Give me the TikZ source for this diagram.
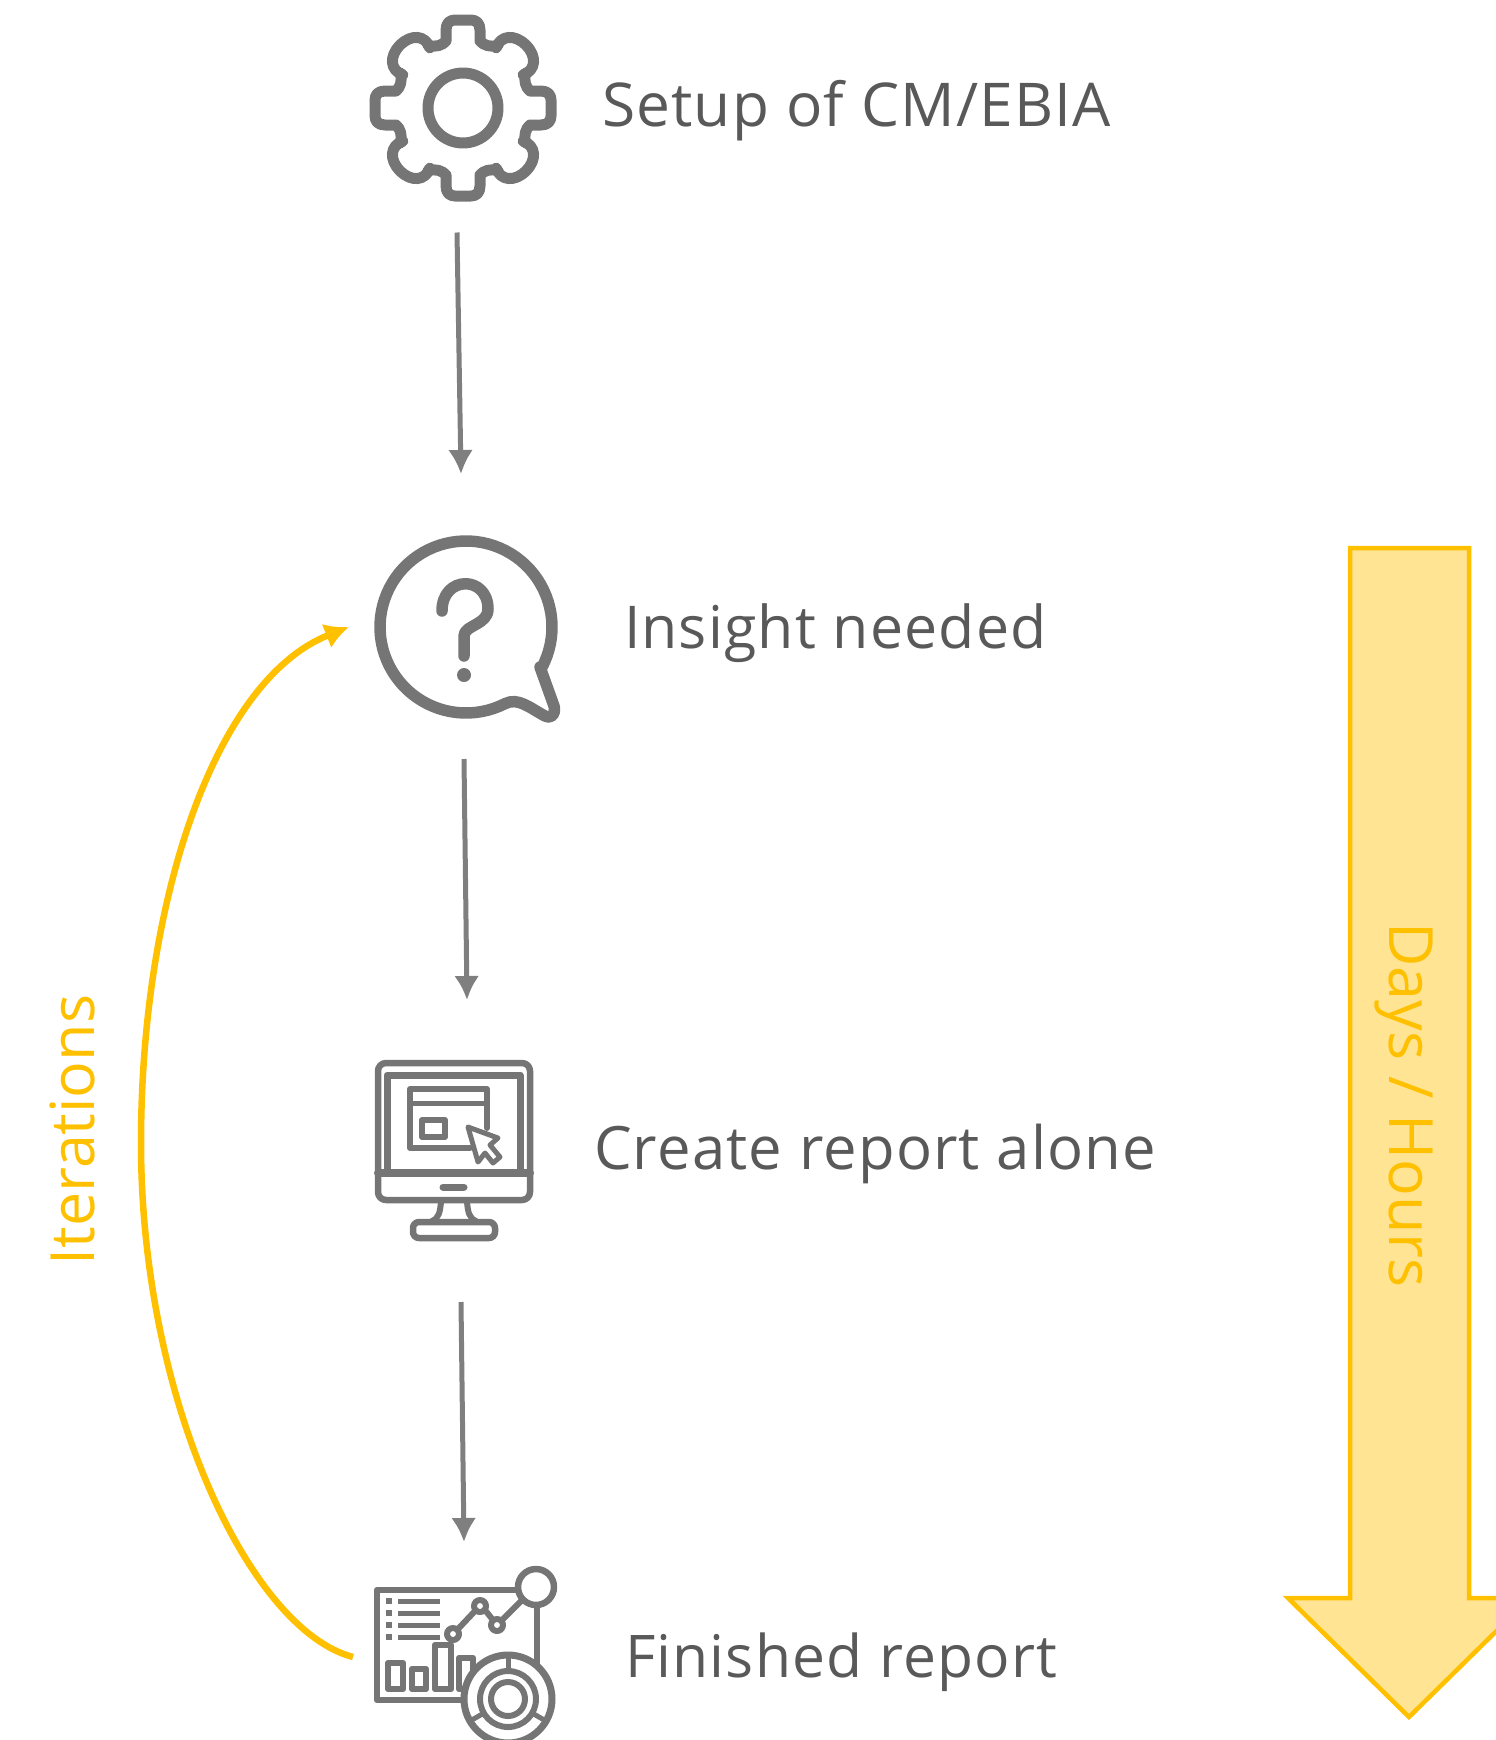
\documentclass[tikz,border=0pt]{standalone}
\usepackage{fontspec}
\setmainfont{Open Sans}
\newfontfamily\spaced[LetterSpace=2]{Open Sans}
\usetikzlibrary{arrows.meta,calc}
\definecolor{icongray}{HTML}{757575}
\definecolor{arrowgray}{HTML}{7F7F7F}
\definecolor{textgray}{HTML}{595959}
\definecolor{gold}{HTML}{FFC000}
\definecolor{goldfill}{HTML}{FFE493}
\tikzset{
  icon/.style={draw=icongray,line width=#1,line cap=round,line join=round},
  icon/.default=6pt,
  box/.style={inner sep=0pt,outer sep=0pt,minimum width=#1},
  lab/.style={text=textgray,inner sep=0pt,outer sep=0pt,anchor=base west,font=\spaced\fontsize{#1}{64}\selectfont},
  goldlab/.style={text=gold,inner sep=0pt,outer sep=0pt,font=\fontsize{61}{64}\selectfont},
  flow/.style={draw=arrowgray,line width=5pt,-{Latex[length=24pt,width=25pt]}},
  loopback/.style={draw=gold,line width=6.5pt,-{Latex[length=24pt,width=26pt]}}
}
\begin{document}
\begin{tikzpicture}[x=1pt,y=-1pt]
\useasboundingbox (0,0) rectangle (1496,1740);
\clip (0,0) rectangle (1496,1740);
% anchor nodes around the four icons
\node[box=187pt,minimum height=187pt] (gear) at (463,108) {};
\node[box=187pt,minimum height=190pt] (question) at (467,630) {};
\node[box=160pt,minimum height=180pt] (monitor) at (454,1151) {};
\node[box=190pt,minimum height=170pt] (report) at (460,1655) {};
% gear
\begin{scope}[shift={(463,108)}]
\foreach \a in {0,90,180,270}{
  \draw[icon=11pt,rotate=\a] (-35,-63) .. controls (-28,-60) and (-20,-63) .. (-17,-67) -- (-17,-78)
    .. controls (-17,-85) and (-13,-88) .. (-8,-88) -- (8,-88)
    .. controls (13,-88) and (17,-85) .. (17,-78) -- (17,-67)
    .. controls (20,-63) and (28,-60) .. (35,-63);
  \draw[icon=11pt,rotate=\a+45] (-19,-66) .. controls (-25,-78) and (-16,-89) .. (0,-89)
    .. controls (16,-89) and (25,-78) .. (19,-66);
}
\draw[icon=11pt] (0,0) circle (35);
\end{scope}
% question bubble
\draw[icon=11.5pt] plot[domain=28:-297,samples=80] ({466+86*cos(\x)},{627+86*sin(\x)})
  .. controls (518,697) and (530,708) .. (545,716)
  .. controls (552,719) and (556,714) .. (554,706)
  -- (540,667);
\draw[icon=11.5pt] (442,611) .. controls (442,575) and (488,575) .. (488,609)
  .. controls (488,625) and (464,625) .. (464,636) -- (464,656);
\fill[icongray] (464,675) circle (7);
% monitor
\draw[icon=6.5pt,rounded corners=8pt] (378,1063) rectangle (530,1200);
\draw[icon=7pt] (387,1173) -- (387,1075) -- (520,1075) -- (520,1173);
\draw[icon=8pt] (378,1173) -- (530,1173);
\draw[icon=7pt] (443,1187) -- (464,1187);
\draw[icon=6pt] (441,1202) .. controls (440,1212) and (439,1218) .. (432,1221);
\draw[icon=6pt] (467,1202) .. controls (468,1212) and (469,1218) .. (476,1221);
\draw[icon=6.5pt,rounded corners=6pt] (413,1222) rectangle (495,1238);
\draw[icon=6pt] (487,1128) -- (487,1089) -- (410,1089) -- (410,1148) -- (470,1148);
\draw[icon=5pt] (410,1103) -- (487,1103);
\draw[icon=6pt] (422,1120) rectangle (445,1137);
\draw[icon=5pt,fill=white] (468,1127) -- (498,1138) -- (490,1145) -- (500,1157) -- (493,1163) -- (485,1153) -- (478,1162) -- cycle;
% report
\draw[icon=6.5pt] (519,1590) -- (377,1590) -- (377,1700) -- (470,1700);
\draw[icon=6pt] (537,1604) -- (537,1665);
\foreach \yy in {1601,1613,1625,1637}{
  \fill[icongray] (386,\yy-3) rectangle (392,\yy+3);
  \draw[draw=icongray,line width=5pt] (398,\yy) -- (440,\yy);
}
\draw[icon=6.5pt] (388,1663) rectangle (403,1689);
\draw[icon=6.5pt] (412,1669) rectangle (426,1689);
\draw[icon=6.5pt] (435,1645) rectangle (451,1689);
\draw[icon=6.5pt] (459,1658) rectangle (473,1689);
\draw[icon=6pt] (458,1629) -- (475,1611);
\draw[icon=6pt] (485,1610) -- (493,1620);
\draw[icon=6pt] (502,1620) -- (523,1599);
\draw[icon=6pt] (453,1634) circle (6);
\draw[icon=6pt] (480,1606) circle (6);
\draw[icon=6pt] (497,1625) circle (6);
\draw[icon=6.5pt,fill=white] (536,1587) circle (18);
\draw[icon=7pt,fill=white] (508,1699) circle (44);
\draw[icon=6pt] (508,1699) circle (28);
\draw[icon=6pt] (508,1699) circle (17);
\draw[icon=5pt] (508,1655) -- (508,1671);
\draw[icon=5pt] (470,1721) -- (484,1713);
\draw[icon=5pt] (546,1721) -- (532,1713);
% big arrow
\draw[draw=gold,fill=goldfill,line width=4.5pt,miter limit=10] (1350,548) -- (1469,548) -- (1469,1598) -- (1530,1598) -- (1409,1717) -- (1288,1598) -- (1350,1598) -- cycle;
% labels
\node[lab=60.4] (t1) at (602,126) {Setup of CM/EBIA};
\node[lab=59] (t2) at (624,648) {Insight needed};
\node[lab=59.8] (t3) at (594,1169) {Create report alone};
\node[lab=58.8] (t4) at (625,1677) {Finished report};
\node[goldlab,rotate=90] (iter) at (72,1130) {Iterations};
\node[goldlab,rotate=-90] (days) at (1404,1105) {Days / Hours};
% connectors
\draw[flow] ([xshift=-6pt,yshift=-31pt]gear.south) -- ([xshift=-6pt,yshift=61pt]question.north);
\draw[flow] ([xshift=-3pt,yshift=-34pt]question.south) -- ([xshift=13pt,yshift=61pt]monitor.north);
\draw[flow] ([xshift=7pt,yshift=-61pt]monitor.south) -- ([xshift=4pt,yshift=28pt]report.north);
\draw[loopback] (report.west) ++(-12,2) .. controls +(-103,-27) and (141,1400) .. (141,1143)
  .. controls (141,900) and (215,680) .. (349,627);
\end{tikzpicture}
\end{document}
